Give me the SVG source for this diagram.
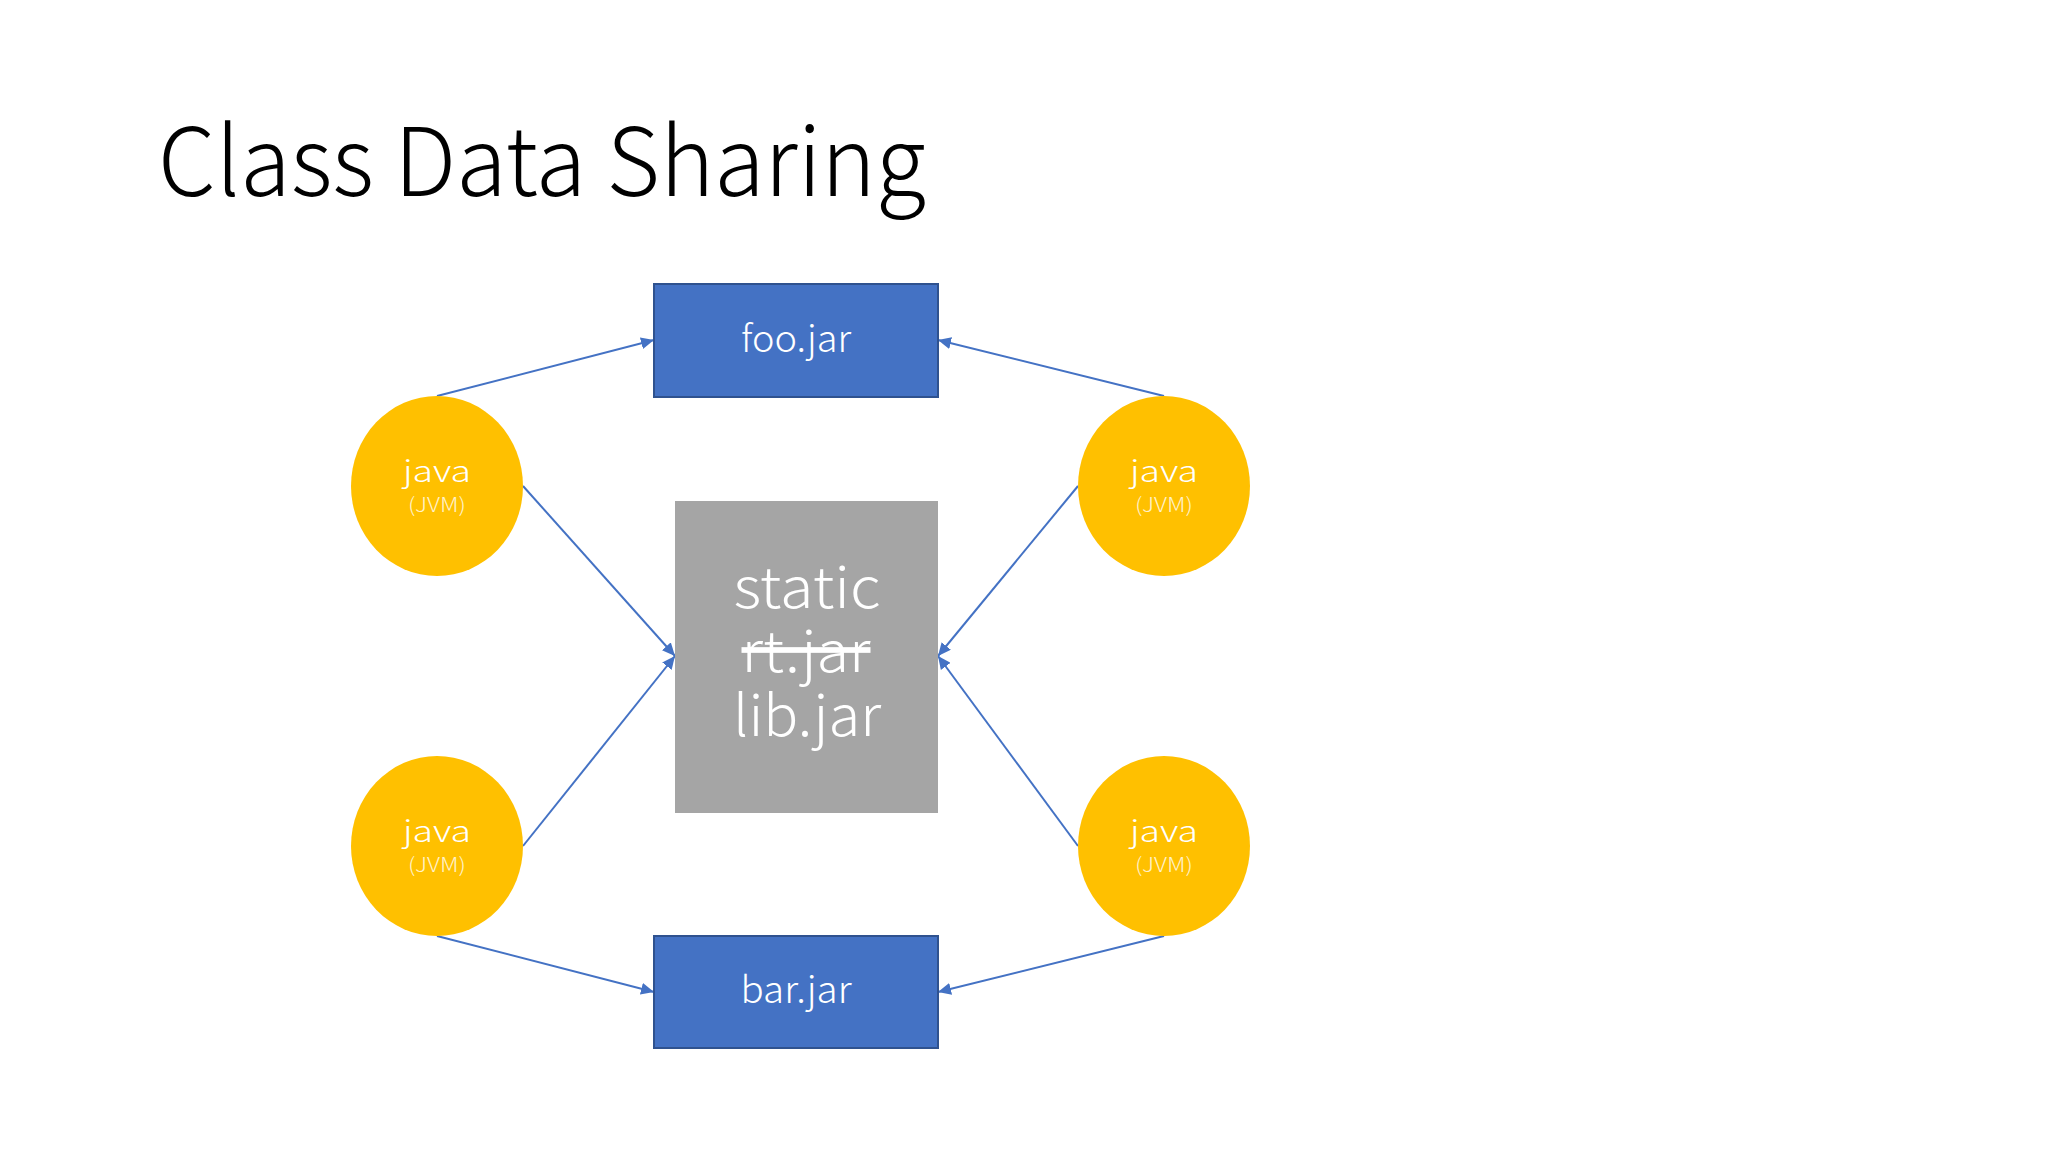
<svg xmlns="http://www.w3.org/2000/svg" width="2048" height="1152" viewBox="0 0 2048 1152">
<style>
  text { font-family: "Noto Sans CJK JP", "Open Sans", "Liberation Sans", sans-serif; font-weight: 200; text-anchor: middle; }
  .title { fill: #000000; font-size: 95px; text-anchor: start; }
  .jar { fill: #4472C4; stroke: #2F528F; stroke-width: 2; }
  .jarText { fill: #FFFFFF; font-size: 37px; font-weight: 300; }
  .jvm { fill: #FFC000; }
  .javaText { fill: #FFFFFF; font-size: 30px; font-weight: 300; }
  .jvmText { fill: #FFF2CC; font-size: 20px; font-weight: 300; }
  .lib { fill: #A5A5A5; }
  .libText { fill: #FFFFFF; font-size: 57px; font-weight: 300; }
  .conn { stroke: #4472C4; stroke-width: 2; fill: none; marker-end: url(#arrow); }
</style>
<defs>
  <marker id="arrow" markerUnits="userSpaceOnUse" markerWidth="14" markerHeight="12" refX="13" refY="6" orient="auto">
    <path d="M0,0 L13,6 L0,12 Z" fill="#4472C4"/>
  </marker>
</defs>
<rect width="2048" height="1152" fill="#FFFFFF"/>
<text id="title" class="title" x="158" y="196" textLength="768" lengthAdjust="spacingAndGlyphs">Class Data Sharing</text>

<g id="connectors">
  <line class="conn" x1="437" y1="396" x2="654" y2="340"/>
  <line class="conn" x1="1164" y1="396" x2="938" y2="340"/>
  <line class="conn" x1="523" y1="486" x2="675" y2="656"/>
  <line class="conn" x1="1078" y1="486" x2="938" y2="656"/>
  <line class="conn" x1="523" y1="846" x2="675" y2="656"/>
  <line class="conn" x1="1078" y1="846" x2="938" y2="656"/>
  <line class="conn" x1="437" y1="936" x2="654" y2="992"/>
  <line class="conn" x1="1164" y1="936" x2="938" y2="992"/>
</g>

<g id="foo">
  <rect class="jar" x="654" y="284" width="284" height="113"/>
  <text class="jarText" x="796" y="352" textLength="110" lengthAdjust="spacingAndGlyphs">foo.jar</text>
</g>
<g id="bar">
  <rect class="jar" x="654" y="936" width="284" height="112"/>
  <text class="jarText" x="796" y="1003" textLength="111" lengthAdjust="spacingAndGlyphs">bar.jar</text>
</g>
<g id="lib">
  <rect class="lib" x="675" y="501" width="263" height="312"/>
  <text class="libText" x="807" y="608" textLength="147" lengthAdjust="spacingAndGlyphs">static</text>
  <text class="libText" x="806" y="672" textLength="129" lengthAdjust="spacingAndGlyphs" text-decoration="line-through">rt.jar</text>
  <text class="libText" x="807" y="736" textLength="148" lengthAdjust="spacingAndGlyphs">lib.jar</text>
</g>
<g id="jvm1">
  <ellipse class="jvm" cx="437" cy="486" rx="86" ry="90"/>
  <text class="javaText" x="437" y="482" textLength="68" lengthAdjust="spacingAndGlyphs">java</text>
  <text class="jvmText" x="437" y="512" textLength="58" lengthAdjust="spacingAndGlyphs">(JVM)</text>
</g>
<g id="jvm2">
  <ellipse class="jvm" cx="1164" cy="486" rx="86" ry="90"/>
  <text class="javaText" x="1164" y="482" textLength="68" lengthAdjust="spacingAndGlyphs">java</text>
  <text class="jvmText" x="1164" y="512" textLength="58" lengthAdjust="spacingAndGlyphs">(JVM)</text>
</g>
<g id="jvm3">
  <ellipse class="jvm" cx="437" cy="846" rx="86" ry="90"/>
  <text class="javaText" x="437" y="842" textLength="68" lengthAdjust="spacingAndGlyphs">java</text>
  <text class="jvmText" x="437" y="872" textLength="58" lengthAdjust="spacingAndGlyphs">(JVM)</text>
</g>
<g id="jvm4">
  <ellipse class="jvm" cx="1164" cy="846" rx="86" ry="90"/>
  <text class="javaText" x="1164" y="842" textLength="68" lengthAdjust="spacingAndGlyphs">java</text>
  <text class="jvmText" x="1164" y="872" textLength="58" lengthAdjust="spacingAndGlyphs">(JVM)</text>
</g>
</svg>
